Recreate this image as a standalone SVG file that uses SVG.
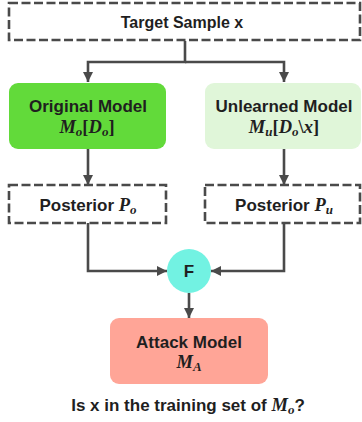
<svg xmlns="http://www.w3.org/2000/svg" width="362" height="422" viewBox="0 0 362 422">
<style>
.dash{fill:#fff;stroke:#4a4a4a;stroke-width:2.6;stroke-dasharray:9 3.5}
.lbl{font-family:"Liberation Sans",Arial,sans-serif;font-weight:bold;font-size:17px;fill:#1f1f1f;text-anchor:middle}
.t16{font-size:16px}
.math{font-family:"Liberation Serif","Times New Roman",serif;font-weight:bold;font-style:italic;font-size:18.5px;fill:#1f1f1f}
.up{font-style:normal}
.sub{font-size:13px}
.conn{fill:none;stroke:#4a4a4a;stroke-width:2.6}
</style>
<defs>
<marker id="ah" viewBox="0 0 10 10" refX="10" refY="5" markerWidth="10" markerHeight="10" markerUnits="userSpaceOnUse" orient="auto">
<path d="M0,0 L10,5 L0,10 z" fill="#4a4a4a"/>
</marker>
</defs>
<g id="connectors">
<path class="conn" d="M185,41 V62 H88 V82" marker-end="url(#ah)"/>
<path class="conn" d="M185,62 H284 V82" marker-end="url(#ah)"/>
<path class="conn" d="M88,149 V185" marker-end="url(#ah)"/>
<path class="conn" d="M284,149 V185" marker-end="url(#ah)"/>
<path class="conn" d="M88,223 V271 H167" marker-end="url(#ah)"/>
<path class="conn" d="M284,223 V271 H211" marker-end="url(#ah)"/>
<path class="conn" d="M189,293 V318" marker-end="url(#ah)"/>
</g>
<g id="target">
<rect class="dash" x="9" y="3" width="351" height="37"/>
<text class="lbl t16" x="182" y="28">Target Sample x</text>
</g>
<g id="original">
<rect x="9" y="83" width="157" height="66" rx="9" fill="#62da3a"/>
<text class="lbl" x="88" y="112">Original Model</text>
<text class="math" x="87" y="133" text-anchor="middle">M<tspan class="sub" dy="3">o</tspan><tspan class="up" dy="-3">[</tspan>D<tspan class="sub" dy="3">o</tspan><tspan class="up" dy="-3">]</tspan></text>
</g>
<g id="unlearned">
<rect x="205" y="83" width="156" height="66" rx="9" fill="#e0f6d9"/>
<text class="lbl" x="284" y="112">Unlearned Model</text>
<text class="math" x="284" y="133" text-anchor="middle">M<tspan class="sub" dy="3">u</tspan><tspan class="up" dy="-3">[</tspan>D<tspan class="sub" dy="3">o</tspan><tspan class="up" dy="-3">\</tspan>x<tspan class="up">]</tspan></text>
</g>
<g id="posterior-o">
<rect class="dash" x="9" y="185" width="157" height="38"/>
<text class="lbl" x="88" y="211">Posterior <tspan class="math">P<tspan class="sub" dy="3">o</tspan></tspan></text>
</g>
<g id="posterior-u">
<rect class="dash" x="205" y="185" width="155" height="38"/>
<text class="lbl" x="284" y="211">Posterior <tspan class="math">P<tspan class="sub" dy="3">u</tspan></tspan></text>
</g>
<g id="fusion">
<circle cx="189" cy="271" r="22" fill="#72f2e2"/>
<text class="lbl" x="189" y="277">F</text>
</g>
<g id="attack">
<rect x="110" y="318" width="158" height="66" rx="9" fill="#ffa597"/>
<text class="lbl" x="189" y="348">Attack Model</text>
<text class="math" x="189" y="368" text-anchor="middle">M<tspan class="sub" dy="3">A</tspan></text>
</g>
<g id="caption">
<text class="lbl" x="188" y="411">Is x in the training set of <tspan class="math">M<tspan class="sub" dy="3">o</tspan></tspan><tspan dy="-3">?</tspan></text>
</g>
</svg>
